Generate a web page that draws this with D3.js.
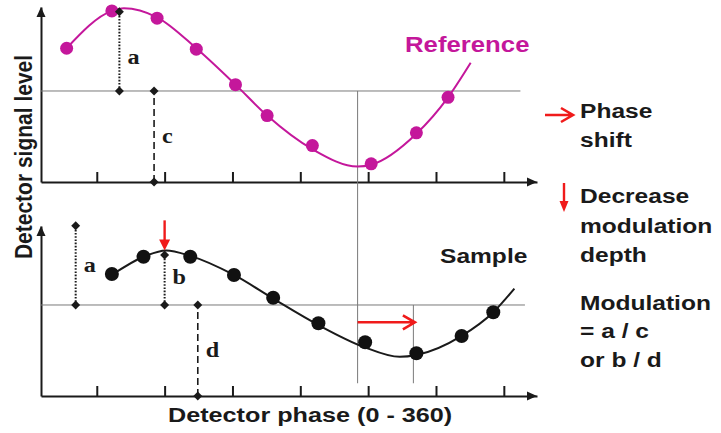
<!DOCTYPE html>
<html>
<head>
<meta charset="utf-8">
<script src="https://cdn.jsdelivr.net/npm/d3@7"></script>
<style>
  html, body { margin: 0; padding: 0; background: #fff; }
  svg { display: block; }
</style>
</head>
<body>
<div id="chart"></div>
<script>
// Unlabelled ticks along the detector phase axis (degrees)
const phaseTicks = [45, 90, 135, 180, 225, 270, 315];

// Reference signal: measured points and the fitted trace through them
const refPhase  = [25, 55, 85, 111, 137, 158, 188, 227, 257, 278];
const refSignal = [1.47, 1.88, 1.80, 1.46, 1.07, 0.73, 0.40, 0.20, 0.54, 0.93];
const refTracePhase  = [25, 55, 63, 85, 111, 137, 158, 188, 218, 227, 257, 278, 293];
const refTraceSignal = [1.47, 1.88, 1.91, 1.81, 1.47, 1.07, 0.73, 0.36, 0.17, 0.19, 0.53, 0.93, 1.31];

// Sample signal: measured points and the fitted trace through them
const samplePhase  = [55, 76, 107, 136, 162, 192, 223, 257, 287, 308];
const sampleSignal = [1.34, 1.53, 1.53, 1.33, 1.08, 0.80, 0.59, 0.47, 0.66, 0.92];
const sampleTracePhase  = [55, 76, 91, 107, 136, 162, 192, 222, 246, 257, 287, 308, 322];
const sampleTraceSignal = [1.33, 1.53, 1.60, 1.54, 1.33, 1.07, 0.78, 0.54, 0.43, 0.45, 0.66, 0.92, 1.18];

// Mean (DC) level of each signal
const meanLevel = 1;

// Amplitude (a, b) and mean (c, d) spans
const spanNames = ["a", "c", "a", "b", "d"];
const spanPanel = ["ref", "ref", "sample", "sample", "sample"];
const spanPhase = [60, 83, 31, 90, 112];
const spanFrom  = [1, 0, 1, 1, 0];
const spanTo    = [1.87, 1, 1.87, 1.55, 1];

// Phase of the reference minimum and of the sample minimum
const shiftFrom = 218;
const shiftTo   = 256;
const shiftLevel = 0.81;

// Peak of the sample where the depth drop is marked
const depthPhase = 90;
const depthTop = 1.93;
const depthTip = 1.60;

const W = 721, H = 433;
const MAGENTA = "#c4179b";
const RED = "#f01b1b";
const INK = "#1a1a1a";
const GRID = "#7a7a7a";
const SANS = "'Liberation Sans', Arial, sans-serif";
const SERIF = "'Liberation Serif', 'Times New Roman', serif";

const svg = d3.select("#chart").append("svg")
  .attr("width", W).attr("height", H);

const x = d3.scaleLinear().domain([8, 337]).range([41, 537]);
const yRef = d3.scaleLinear().domain([0, 1.923]).range([182, 7]);
const ySam = d3.scaleLinear().domain([0, 1.868]).range([396, 226]);
const panelY = { ref: yRef, sample: ySam };

// ---- axes with arrowheads ----
function drawAxes(y) {
  const gx = svg.append("g")
    .attr("transform", `translate(0,${y(0)})`)
    .call(d3.axisBottom(x).tickValues(phaseTicks).tickSize(-10).tickSizeOuter(0).tickFormat(""));
  gx.select(".domain").attr("stroke", INK).attr("stroke-width", 2);
  gx.selectAll(".tick line").attr("stroke", INK).attr("stroke-width", 2);

  const gy = svg.append("g")
    .attr("transform", `translate(${x(8)},0)`)
    .call(d3.axisLeft(y).tickValues([]).tickSizeOuter(0));
  gy.select(".domain").attr("stroke", INK).attr("stroke-width", 2);

  const x1 = x(337), yb = y(0);
  svg.append("path")
    .attr("d", `M${x1},${yb} L${x1 - 10},${yb - 4.5} L${x1 - 10},${yb + 4.5} Z`)
    .attr("fill", INK);
  const xa = x(8), yt = y.range()[1];
  svg.append("path")
    .attr("d", `M${xa},${yt} L${xa - 4.5},${yt + 10} L${xa + 4.5},${yt + 10} Z`)
    .attr("fill", INK);
}
drawAxes(yRef);
drawAxes(ySam);

// ---- mean levels and phase guides ----
svg.append("line")
  .attr("x1", x(8)).attr("x2", x(326))
  .attr("y1", yRef(meanLevel)).attr("y2", yRef(meanLevel))
  .attr("stroke", GRID).attr("stroke-width", 1);
svg.append("line")
  .attr("x1", x(8)).attr("x2", x(329))
  .attr("y1", ySam(meanLevel)).attr("y2", ySam(meanLevel))
  .attr("stroke", GRID).attr("stroke-width", 1);
svg.append("line")
  .attr("x1", x(shiftFrom)).attr("x2", x(shiftFrom))
  .attr("y1", yRef(meanLevel)).attr("y2", ySam(0.14))
  .attr("stroke", GRID).attr("stroke-width", 1);
svg.append("line")
  .attr("x1", x(255)).attr("x2", x(255))
  .attr("y1", ySam(meanLevel)).attr("y2", ySam(0.14))
  .attr("stroke", GRID).attr("stroke-width", 1);

// ---- traces ----
function trace(ph, sig, y, color) {
  const pts = ph.map((p, i) => [p, sig[i]]);
  svg.append("path")
    .datum(pts)
    .attr("d", d3.line().x(d => x(d[0])).y(d => y(d[1])).curve(d3.curveMonotoneX))
    .attr("fill", "none").attr("stroke", color).attr("stroke-width", 2);
}
trace(refTracePhase, refTraceSignal, yRef, MAGENTA);
trace(sampleTracePhase, sampleTraceSignal, ySam, INK);

svg.append("g").selectAll("circle")
  .data(refPhase.map((p, i) => [p, refSignal[i]]))
  .join("circle")
  .attr("cx", d => x(d[0])).attr("cy", d => yRef(d[1]))
  .attr("r", 6.5).attr("fill", MAGENTA);

svg.append("g").selectAll("circle")
  .data(samplePhase.map((p, i) => [p, sampleSignal[i]]))
  .join("circle")
  .attr("cx", d => x(d[0])).attr("cy", d => ySam(d[1]))
  .attr("r", 7).attr("fill", "#111");

// ---- amplitude / mean spans ----
const diamond = d3.symbol().type(d3.symbolSquare).size(40);
const labelDy = { a: 7, b: 4, c: 7, d: 7 };
spanNames.forEach((name, i) => {
  const y = panelY[spanPanel[i]];
  const px = x(spanPhase[i]);
  const y1 = y(spanFrom[i]), y2 = y(spanTo[i]);
  const dotted = (name === "a" || name === "b");
  svg.append("line")
    .attr("x1", px).attr("x2", px).attr("y1", y1).attr("y2", y2)
    .attr("stroke", INK)
    .attr("stroke-width", dotted ? 2 : 1.6)
    .attr("stroke-dasharray", dotted ? "1.6,1.6" : "7,4");
  [y1, y2].forEach(yy => {
    svg.append("path")
      .attr("d", diamond())
      .attr("transform", `translate(${px},${yy}) rotate(45)`)
      .attr("fill", INK);
  });
  const dy = (name === "a" && spanPanel[i] === "ref") ? 13 : labelDy[name];
  svg.append("text")
    .attr("transform", `translate(${px + 8},${(y1 + y2) / 2 + dy}) scale(1.1,1)`)
    .attr("font-family", SERIF).attr("font-weight", "bold").attr("font-size", 22)
    .attr("fill", INK)
    .text(name);
});

// ---- red arrows ----
function openArrowRight(x0, x1, y) {
  svg.append("path")
    .attr("d", `M${x0},${y} H${x1} M${x1 - 12},${y - 7} L${x1},${y} L${x1 - 12},${y + 7}`)
    .attr("fill", "none").attr("stroke", RED).attr("stroke-width", 2.6)
    .attr("stroke-linejoin", "miter");
}
function solidArrowDown(xp, y0, y1, hw) {
  svg.append("line")
    .attr("x1", xp).attr("x2", xp).attr("y1", y0).attr("y2", y1 - 8)
    .attr("stroke", RED).attr("stroke-width", 2.4);
  svg.append("path")
    .attr("d", `M${xp - hw},${y1 - 11} L${xp + hw},${y1 - 11} L${xp},${y1} Z`)
    .attr("fill", RED);
}
openArrowRight(x(shiftFrom), x(shiftTo), ySam(shiftLevel));
solidArrowDown(x(depthPhase), ySam(depthTop), ySam(depthTip), 5.5);

// legend markers
openArrowRight(545, 573, 115);
solidArrowDown(564, 183, 212, 4.5);

// ---- text ----
function label(str, px, py, opts = {}) {
  const sx = opts.sx || 1.17;
  return svg.append("text")
    .attr("transform", `translate(${px},${py}) scale(${sx},1)`)
    .attr("font-family", SANS).attr("font-weight", "bold")
    .attr("font-size", opts.size || 21)
    .attr("fill", opts.color || INK)
    .text(str);
}
label("Reference", 405, 52, { size: 22, color: MAGENTA });
label("Sample", 440, 263);

label("Phase", 580, 118);
label("shift", 580, 147);
label("Decrease", 580, 203);
label("modulation", 580, 233);
label("depth", 580, 262);
label("Modulation", 580, 310);
label("= a / c", 580, 338);
label("or b / d", 580, 367);

label("Detector phase (0 - 360)", 168, 422, { sx: 1.2 });

svg.append("text")
  .attr("transform", "translate(32,157) rotate(-90) scale(1,1.17)")
  .attr("text-anchor", "middle")
  .attr("font-family", SANS).attr("font-weight", "bold").attr("font-size", 21)
  .attr("fill", INK)
  .text("Detector signal level");
</script>
</body>
</html>
